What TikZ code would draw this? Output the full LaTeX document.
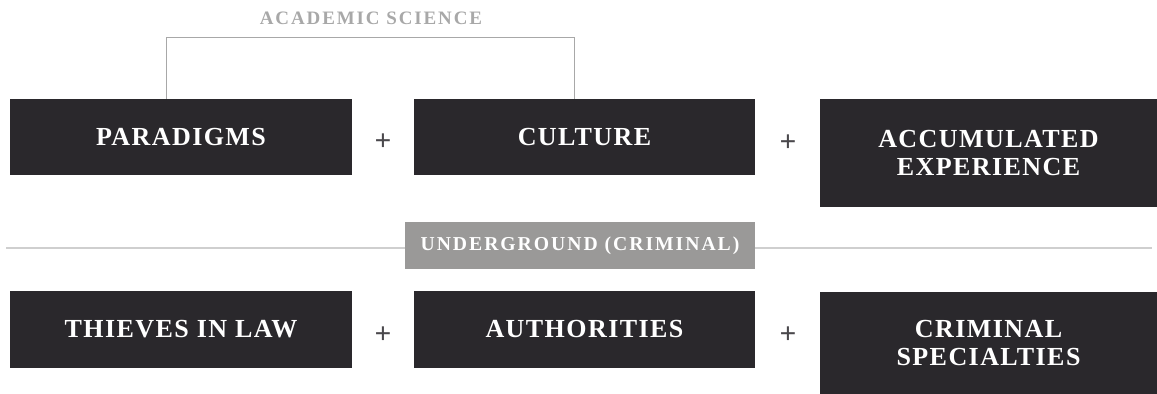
\documentclass[tikz,border=0pt]{standalone}
\usepackage{fontspec}
\setmainfont{Liberation Serif}
\usetikzlibrary{positioning,calc}

\definecolor{boxdark}{HTML}{2A282C}
\definecolor{boxgray}{HTML}{9A9998}
\definecolor{linegray}{HTML}{A8A8A8}
\definecolor{rulegray}{HTML}{CFCFCF}

\tikzset{
  darkbox/.style={fill=boxdark, text=white, inner sep=0pt, outer sep=0pt,
    minimum width=8.55cm, minimum height=1.9cm, align=center,
    font=\fontsize{18.5}{20.5}\selectfont\bfseries\addfontfeature{LetterSpace=5.5}},
  plussign/.style={text=boxdark!85, font=\fontsize{21}{21}\selectfont\bfseries},
  graytag/.style={fill=boxgray, text=white, inner sep=0pt, outer sep=0pt,
    minimum width=8.75cm, minimum height=1.175cm,
    font=\fontsize{14}{16}\selectfont\bfseries\addfontfeature{LetterSpace=10}},
  bracket/.style={draw=linegray, line width=0.7pt},
  divider/.style={draw=rulegray, line width=0.8pt}
}

\begin{document}
\begin{tikzpicture}[x=0.025cm,y=-0.025cm]
\useasboundingbox (0,0) rectangle (1157,394);
% Academic science row
\node[darkbox] (para) at (181,137) {PARADIGMS};
\node[darkbox, minimum width=8.525cm] (cult) at (584.5,137) {CULTURE};
\node[darkbox, minimum width=8.425cm, minimum height=2.7cm] (accum) at (988.5,153) {ACCUMULATED\\EXPERIENCE};
\node[plussign] (plusA) at (383,142) {+};
\node[plussign] (plusB) at (788,143) {+};
\node[text=linegray, font=\fontsize{13.5}{15}\selectfont\bfseries\addfontfeature{LetterSpace=10}] (academic) at (371,18) {ACADEMIC SCIENCE};
\draw[bracket] ([xshift=-0.375cm]para.north) -- ++(0,1.525cm) -| ([xshift=-0.2625cm]cult.north);
% Divider
\node[graytag] (under) at (580,245.5) {UNDERGROUND (CRIMINAL)};
\coordinate (ruleL) at (6,248);
\coordinate (ruleR) at (1152,248);
\draw[divider] (ruleL) -- (ruleL -| under.west);
\draw[divider] (ruleR -| under.east) -- (ruleR);
% Underground row
\node[darkbox] (thieves) at (181,329.5) {THIEVES IN LAW};
\node[darkbox, minimum width=8.525cm] (auth) at (584.5,329.5) {AUTHORITIES};
\node[darkbox, minimum width=8.425cm, minimum height=2.55cm] (crim) at (988.5,343) {CRIMINAL\\SPECIALTIES};
\node[plussign] (plusC) at (383,335) {+};
\node[plussign] (plusD) at (788,335) {+};
\end{tikzpicture}
\end{document}
